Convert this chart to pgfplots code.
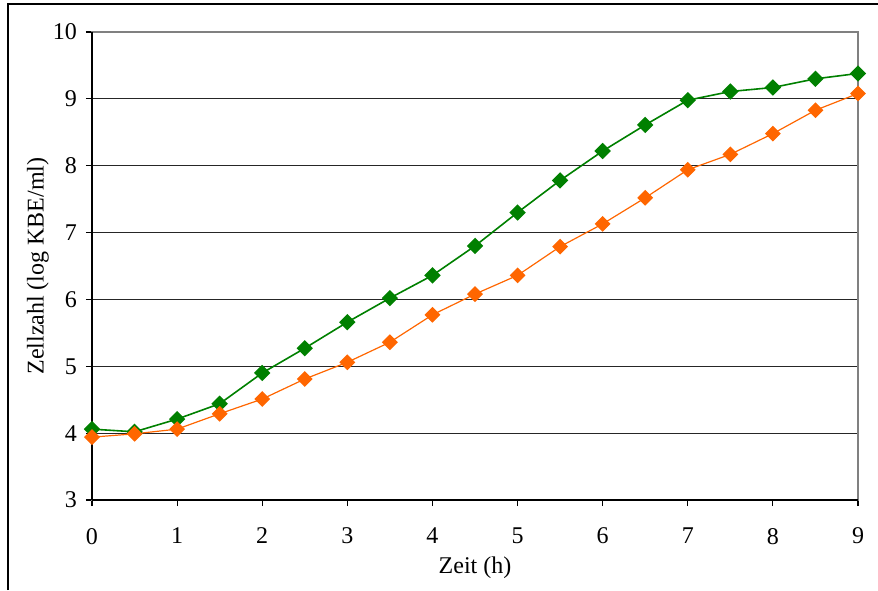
\documentclass[border=0pt]{standalone}
\usepackage{pgfplots}
\pgfplotsset{compat=1.18}
\usepackage{fontspec}
\setmainfont{Liberation Serif}
\definecolor{cgreen}{HTML}{008000}
\definecolor{corange}{HTML}{FF6600}
\begin{document}
\begin{tikzpicture}[x=1pt,y=1pt]
\useasboundingbox (0,0) rectangle (439,295);
\draw[line width=0.8pt] (4,0) -- (4,293) -- (439,293);
\begin{axis}[
  scale only axis, width=383pt, height=234pt,
  at={(46pt,45pt)}, anchor=south west,
  xmin=0, xmax=9, ymin=3, ymax=10,
  xtick={0,...,9}, ytick={3,...,10},
  xtick pos=bottom, ytick pos=left,
  tick align=outside, major tick length=3pt,
  tick style={black, line width=0.6pt},
  axis line style={gray, line width=0.6pt},
  ymajorgrids, major grid style={black!85, line width=0.5pt},
  /pgf/number format/assume math mode=true,
  tick label style={font=\fontsize{12}{14}\selectfont},
  xticklabel style={yshift=-7.5pt},
  yticklabel style={xshift=-1pt},
  label style={font=\fontsize{12}{14}\selectfont},
  xlabel={Zeit (h)}, ylabel={Zellzahl (log KBE/ml)},
  xlabel style={at={(axis description cs:0.5,-0.145)}, anchor=center},
  ylabel style={at={(axis description cs:-0.0705,0.5)}, anchor=center},
  clip=false,
]
\addplot[cgreen, line width=0.8pt, mark=square*, mark size=2.5pt, mark options={rotate=45, solid}] coordinates {
(0,4.06) (0.5,4.02) (1,4.21) (1.5,4.44) (2,4.90) (2.5,5.27) (3,5.66) (3.5,6.02) (4,6.36) (4.5,6.80) (5,7.30) (5.5,7.78) (6,8.22) (6.5,8.61) (7,8.98) (7.5,9.11) (8,9.17) (8.5,9.30) (9,9.38)};
\addplot[corange, line width=0.6pt, mark=square*, mark size=2.5pt, mark options={rotate=45, solid}] coordinates {
(0,3.94) (0.5,3.99) (1,4.06) (1.5,4.29) (2,4.51) (2.5,4.81) (3,5.06) (3.5,5.36) (4,5.77) (4.5,6.08) (5,6.36) (5.5,6.79) (6,7.13) (6.5,7.52) (7,7.94) (7.5,8.17) (8,8.48) (8.5,8.83) (9,9.08)};
\draw[black, line width=0.8pt] (axis cs:0,3) -- (axis cs:0,10);
\draw[black, line width=0.8pt] (axis cs:0,3) -- (axis cs:9,3);
\end{axis}
\end{tikzpicture}
\end{document}
